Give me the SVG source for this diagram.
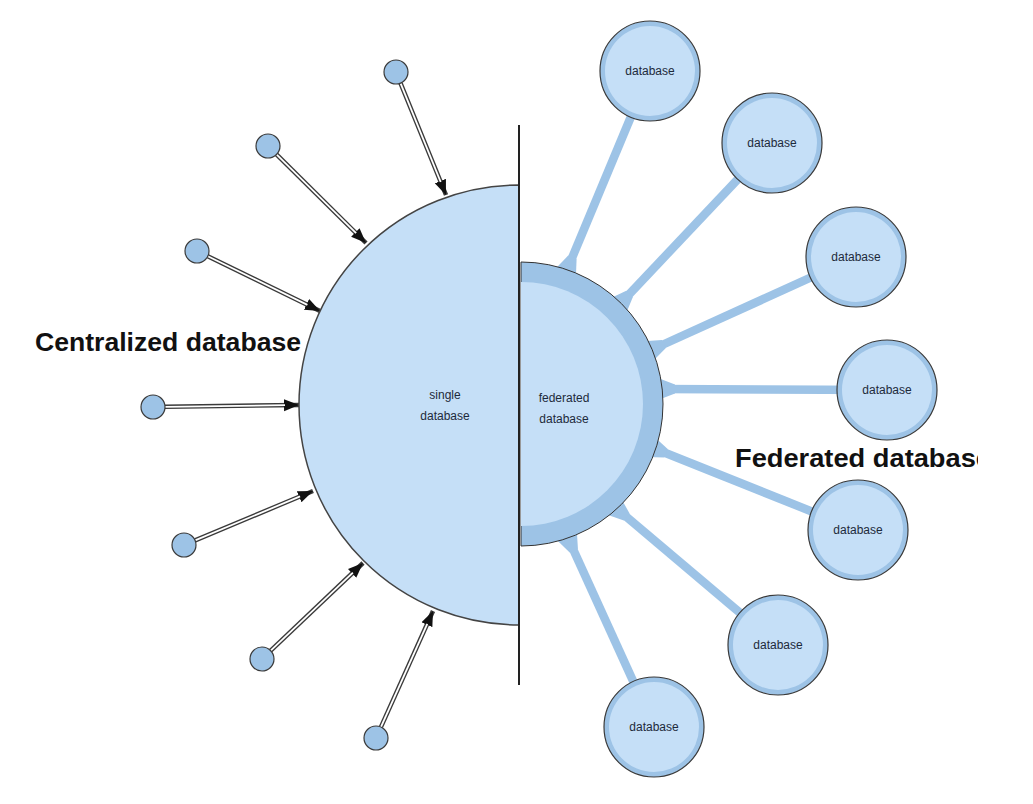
<svg xmlns="http://www.w3.org/2000/svg" width="1033" height="804" viewBox="0 0 1033 804">
<style>
.lbl{font-family:"Liberation Sans",Arial,sans-serif;font-size:12px;fill:#1e2a3a;text-anchor:middle}
.title{font-family:"Liberation Sans",Arial,sans-serif;font-size:26px;font-weight:bold;fill:#111}
.src{fill:#9dc3e6;stroke:#3a3a3a;stroke-width:1.2}
.dbo{fill:#9dc3e6;stroke:#3a3a3a;stroke-width:1.2}
.dbi{fill:#c5dff7}
.arr{stroke:#3a3a3a;stroke-width:4.5;fill:none}
.arrw{stroke:#fff;stroke-width:1.8;fill:none}
.fed{stroke:#9dc3e6;stroke-width:8.5;fill:none}
.flare{fill:#9dc3e6}
</style>
<defs>
<marker id="ah" markerUnits="userSpaceOnUse" markerWidth="16" markerHeight="13" refX="15" refY="6" orient="auto">
<path d="M0,0 L15,6 L0,12 z" fill="#111"/>
</marker>
<clipPath id="clipR"><rect x="0" y="0" width="978" height="804"/></clipPath>
</defs>
<rect width="1033" height="804" fill="#fff"/>

<g id="connectors">
<line class="arr" x1="400.5" y1="83.1" x2="446" y2="195" marker-end="url(#ah)"/>
<line class="arrw" x1="400.5" y1="83.1" x2="440.7" y2="182"/>
<line class="arr" x1="276.5" y1="154.4" x2="366" y2="243" marker-end="url(#ah)"/>
<line class="arrw" x1="276.5" y1="154.4" x2="356.1" y2="233.2"/>
<line class="arr" x1="207.8" y1="256.3" x2="320" y2="311" marker-end="url(#ah)"/>
<line class="arrw" x1="207.8" y1="256.3" x2="307.4" y2="304.9"/>
<line class="arr" x1="165" y1="406.8" x2="299" y2="405" marker-end="url(#ah)"/>
<line class="arrw" x1="165" y1="406.8" x2="285" y2="405.2"/>
<line class="arr" x1="195.1" y1="540.4" x2="313" y2="491" marker-end="url(#ah)"/>
<line class="arrw" x1="195.1" y1="540.4" x2="300.1" y2="496.4"/>
<line class="arr" x1="270.7" y1="650.7" x2="363" y2="563" marker-end="url(#ah)"/>
<line class="arrw" x1="270.7" y1="650.7" x2="352.9" y2="572.6"/>
<line class="arr" x1="380.9" y1="727.1" x2="433" y2="611" marker-end="url(#ah)"/>
<line class="arrw" x1="380.9" y1="727.1" x2="427.3" y2="623.8"/>

<line class="fed" x1="567" y1="270" x2="650" y2="71"/>
<line class="fed" x1="620" y1="304" x2="772" y2="143"/>
<line class="fed" x1="651" y1="350" x2="856" y2="257"/>
<line class="fed" x1="661" y1="389" x2="887" y2="390"/>
<line class="fed" x1="653" y1="448" x2="858" y2="530"/>
<line class="fed" x1="616" y1="508" x2="778" y2="645"/>
<line class="fed" x1="568" y1="538" x2="654" y2="727"/>
<polygon class="flare" points="575.9,277 576.6,258.8 568.2,255.4 555.7,268.6"/>
<polygon class="flare" points="625.9,313.7 632.9,296.9 626.3,290.7 609.9,298.6"/>
<polygon class="flare" points="652.8,361.2 665.6,348.3 661.9,340.1 643.8,341.2"/>
<polygon class="flare" points="658,400 675,393.5 675,384.5 658,378"/>
<polygon class="flare" points="646.1,457.1 664.3,457.4 667.7,449 654.3,436.7"/>
<polygon class="flare" points="606.6,514.5 623.8,520.4 629.6,513.6 620.8,497.7"/>
<polygon class="flare" points="556.8,539.9 569.7,552.6 577.9,548.8 576.8,530.7"/>
</g>

<g id="single-database">
<path d="M519,185 A220,220 0 0 0 519,625 Z" fill="#c5dff7" stroke="#444" stroke-width="1.5"/>
<text class="lbl" x="445" y="399">single</text>
<text class="lbl" x="445" y="420">database</text>
</g>

<g id="federated-database">
<path d="M521,262 A142,142 0 0 1 521,546 Z" fill="#9dc3e6" stroke="#333" stroke-width="1"/>
<path d="M521,282 A122,122 0 0 1 521,526 Z" fill="#c5dff7"/>
<text class="lbl" x="564" y="402">federated</text>
<text class="lbl" x="564" y="423">database</text>
</g>

<g id="divider">
<line x1="519" y1="125" x2="519" y2="685" stroke="#222" stroke-width="2"/>
</g>

<g id="sources">
<circle class="src" cx="396" cy="72" r="12"/>
<circle class="src" cx="268" cy="146" r="12"/>
<circle class="src" cx="197" cy="251" r="12"/>
<circle class="src" cx="153" cy="407" r="12"/>
<circle class="src" cx="184" cy="545" r="12"/>
<circle class="src" cx="262" cy="659" r="12"/>
<circle class="src" cx="376" cy="738" r="12"/>
</g>

<g id="db1"><circle class="dbo" cx="650" cy="71" r="50"/><circle class="dbi" cx="650" cy="71" r="45"/><text class="lbl" x="650" y="75">database</text></g>
<g id="db2"><circle class="dbo" cx="772" cy="143" r="50"/><circle class="dbi" cx="772" cy="143" r="45"/><text class="lbl" x="772" y="147">database</text></g>
<g id="db3"><circle class="dbo" cx="856" cy="257" r="50"/><circle class="dbi" cx="856" cy="257" r="45"/><text class="lbl" x="856" y="261">database</text></g>
<g id="db4"><circle class="dbo" cx="887" cy="390" r="50"/><circle class="dbi" cx="887" cy="390" r="45"/><text class="lbl" x="887" y="394">database</text></g>
<g id="db5"><circle class="dbo" cx="858" cy="530" r="50"/><circle class="dbi" cx="858" cy="530" r="45"/><text class="lbl" x="858" y="534">database</text></g>
<g id="db6"><circle class="dbo" cx="778" cy="645" r="50"/><circle class="dbi" cx="778" cy="645" r="45"/><text class="lbl" x="778" y="649">database</text></g>
<g id="db7"><circle class="dbo" cx="654" cy="727" r="50"/><circle class="dbi" cx="654" cy="727" r="45"/><text class="lbl" x="654" y="731">database</text></g>

<g id="titles">
<text class="title" x="35" y="351" textLength="266" lengthAdjust="spacingAndGlyphs">Centralized database</text>
<g clip-path="url(#clipR)">
<text class="title" x="735" y="467" textLength="256" lengthAdjust="spacingAndGlyphs">Federated database</text>
</g>
</g>
</svg>
